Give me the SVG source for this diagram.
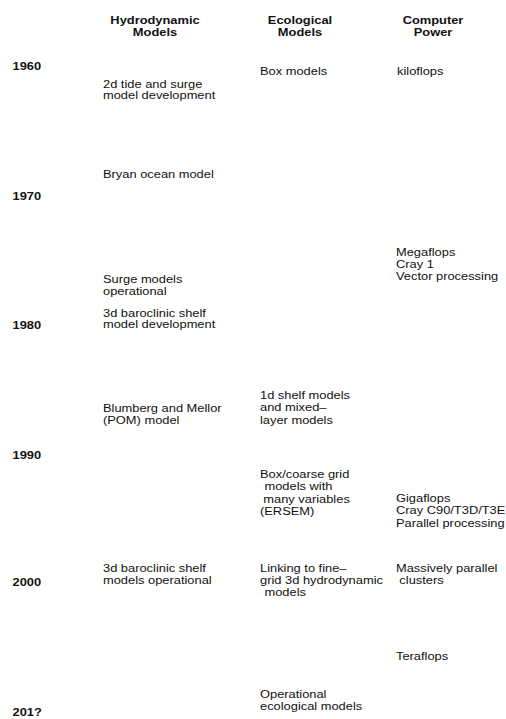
<svg xmlns="http://www.w3.org/2000/svg" width="506" height="719" viewBox="0 0 506 719">
<style>
text { font-family: "Liberation Sans", Arial, sans-serif; font-size: 11.5px; fill: #111; }
.s { transform: scale(1.12, 1); }
.b { font-weight: bold; }
.c { text-anchor: middle; }
</style>
<rect width="506" height="719" fill="#fff"/>
<g id="headers">
  <g id="h-hydro" transform="translate(155,23.5)"><text class="s b c"><tspan x="0" y="0">Hydrodynamic</tspan><tspan x="0" y="12.5">Models</tspan></text></g>
  <g id="h-eco" transform="translate(300,23.5)"><text class="s b c"><tspan x="0" y="0">Ecological</tspan><tspan x="0" y="12.5">Models</tspan></text></g>
  <g id="h-comp" transform="translate(433,23.5)"><text class="s b c"><tspan x="0" y="0">Computer</tspan><tspan x="0" y="12.5">Power</tspan></text></g>
</g>
<g id="years">
  <g id="y1960" transform="translate(12.5,70)"><text class="s b">1960</text></g>
  <g id="y1970" transform="translate(12.5,200)"><text class="s b">1970</text></g>
  <g id="y1980" transform="translate(12.5,329)"><text class="s b">1980</text></g>
  <g id="y1990" transform="translate(12.5,459)"><text class="s b">1990</text></g>
  <g id="y2000" transform="translate(12.5,586)"><text class="s b">2000</text></g>
  <g id="y201x" transform="translate(12.5,716)"><text class="s b">201?</text></g>
</g>
<g id="hydro">
  <g id="n-2dtide" transform="translate(103,87.5)"><text class="s"><tspan x="0" y="0">2d tide and surge</tspan><tspan x="0" y="12">model development</tspan></text></g>
  <g id="n-bryan" transform="translate(103,178)"><text class="s">Bryan ocean model</text></g>
  <g id="n-surge" transform="translate(103,283)"><text class="s"><tspan x="0" y="0">Surge models</tspan><tspan x="0" y="12">operational</tspan></text></g>
  <g id="n-3ddev" transform="translate(103,316.5)"><text class="s"><tspan x="0" y="0">3d baroclinic shelf</tspan><tspan x="0" y="12">model development</tspan></text></g>
  <g id="n-pom" transform="translate(103,412)"><text class="s"><tspan x="0" y="0">Blumberg and Mellor</tspan><tspan x="0" y="12">(POM) model</tspan></text></g>
  <g id="n-3dop" transform="translate(103,572)"><text class="s"><tspan x="0" y="0">3d baroclinic shelf</tspan><tspan x="0" y="12">models operational</tspan></text></g>
</g>
<g id="eco">
  <g id="n-box" transform="translate(260,75)"><text class="s">Box models</text></g>
  <g id="n-1d" transform="translate(260,399)"><text class="s"><tspan x="0" y="0">1d shelf models</tspan><tspan x="0" y="12.5">and mixed–</tspan><tspan x="0" y="25">layer models</tspan></text></g>
  <g id="n-ersem" transform="translate(260,478)"><text class="s"><tspan x="0" y="0">Box/coarse grid</tspan><tspan x="4" y="12.5">models with</tspan><tspan x="3" y="25">many variables</tspan><tspan x="0" y="37.5">(ERSEM)</tspan></text></g>
  <g id="n-link" transform="translate(260,572)"><text class="s"><tspan x="0" y="0">Linking to fine–</tspan><tspan x="0" y="12">grid 3d hydrodynamic</tspan><tspan x="4" y="24">models</tspan></text></g>
  <g id="n-opeco" transform="translate(260,698)"><text class="s"><tspan x="0" y="0">Operational</tspan><tspan x="0" y="12">ecological models</tspan></text></g>
</g>
<g id="computer">
  <g id="n-kilo" transform="translate(397,75)"><text class="s">kiloflops</text></g>
  <g id="n-mega" transform="translate(396,256)"><text class="s"><tspan x="0" y="0">Megaflops</tspan><tspan x="0" y="12">Cray 1</tspan><tspan x="0" y="24">Vector processing</tspan></text></g>
  <g id="n-giga" transform="translate(396,502)"><text class="s"><tspan x="0" y="0">Gigaflops</tspan><tspan x="0" y="12.5">Cray C90/T3D/T3E</tspan><tspan x="0" y="25">Parallel processing</tspan></text></g>
  <g id="n-mpp" transform="translate(396,572)"><text class="s"><tspan x="0" y="0">Massively parallel</tspan><tspan x="3" y="12">clusters</tspan></text></g>
  <g id="n-tera" transform="translate(396,660)"><text class="s">Teraflops</text></g>
</g>
<g id="connectors"></g>
</svg>
